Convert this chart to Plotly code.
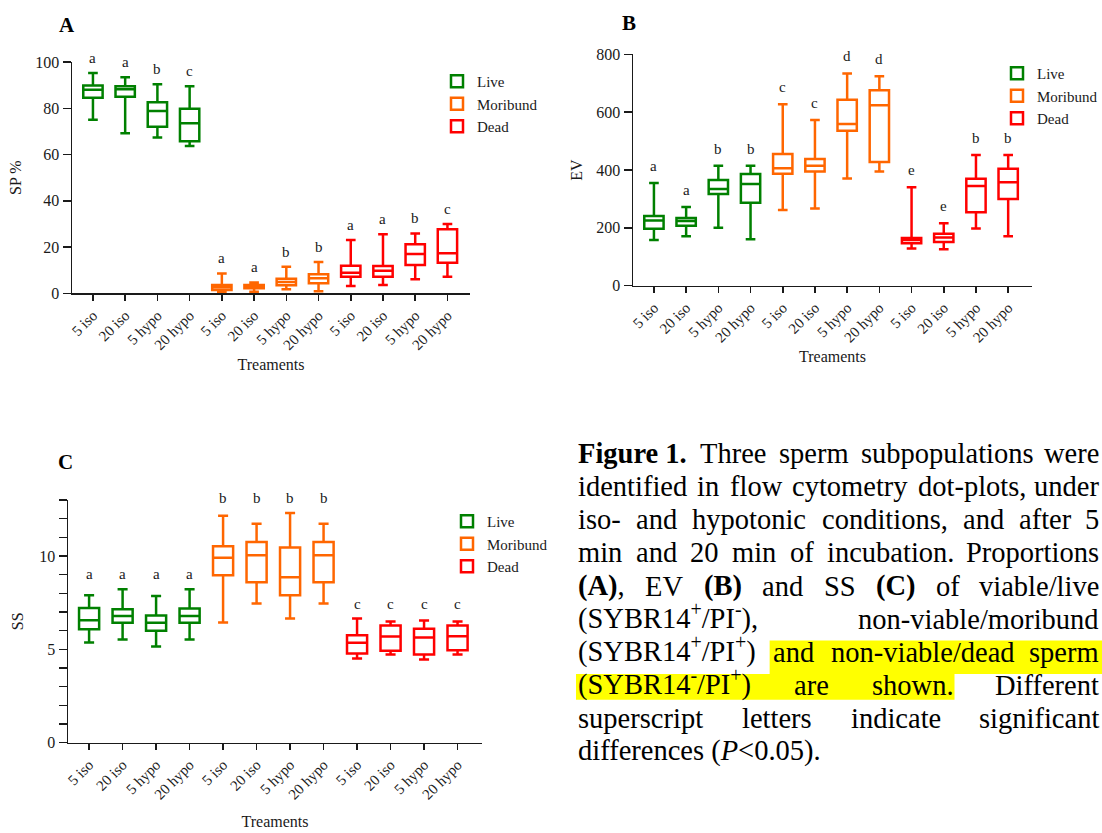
import plotly.graph_objects as go

W, H = 1102, 833
FONT = "Liberation Serif"
INK = "#1a1a1a"

# ---------------- data ----------------
treatments = ["5 iso", "20 iso", "5 hypo", "20 hypo"] * 3
groups = ["Live", "Moribund", "Dead"]
group_colors = ["#008000", "#FF6600", "#FF0000"]

# Panel A: SP %
sp_lower = [75, 69.2, 67.4, 63.7, 0.3, 0.7, 1.7, 0.9, 3.2, 3.6, 6.1, 7.2]
sp_q1 = [84.5, 85, 72, 65.7, 1.4, 2.2, 3.5, 4.3, 7.2, 7.2, 12.2, 13.2]
sp_median = [88, 88.2, 78.8, 73.5, 2.6, 2.9, 4.9, 6.5, 8.9, 9.8, 17, 17.3]
sp_q3 = [89.8, 89.5, 82.6, 79.8, 3.6, 3.6, 6.3, 8.2, 11.9, 11.8, 21.2, 27.7]
sp_upper = [95.2, 93.4, 90.4, 89.5, 8.6, 4.7, 11.5, 13.5, 23, 25.5, 25.9, 30]
sp_letters = ["a", "a", "b", "c", "a", "a", "b", "b", "a", "a", "b", "c"]

# Panel B: EV
ev_lower = [158, 171, 200, 161, 262, 267, 371, 395, 129, 126, 198, 171]
ev_q1 = [197, 207, 317, 287, 387, 395, 536, 428, 147, 151, 254, 300]
ev_median = [225, 224, 334, 352, 406, 415, 559, 624, 158, 167, 345, 358]
ev_q3 = [241, 234, 365, 386, 455, 438, 643, 676, 165, 180, 370, 404]
ev_upper = [355, 272, 415, 415, 627, 573, 734, 724, 340, 216, 452, 452]
ev_letters = ["a", "a", "b", "b", "c", "c", "d", "d", "e", "e", "b", "b"]

# Panel C: SS
ss_lower = [5.37, 5.53, 5.15, 5.53, 6.44, 7.45, 6.65, 7.45, 4.51, 4.73, 4.46, 4.73]
ss_q1 = [6.08, 6.42, 5.99, 6.42, 8.97, 8.59, 7.9, 8.6, 4.78, 4.92, 4.73, 4.95]
ss_median = [6.56, 6.79, 6.42, 6.79, 9.91, 10.04, 8.86, 10.04, 5.35, 5.69, 5.64, 5.7]
ss_q3 = [7.22, 7.15, 6.81, 7.19, 10.52, 10.75, 10.45, 10.75, 5.76, 6.28, 6.1, 6.28]
ss_upper = [7.9, 8.22, 7.86, 8.22, 12.16, 11.73, 12.3, 11.73, 6.65, 6.49, 6.55, 6.49]
ss_letters = ["a", "a", "a", "a", "b", "b", "b", "b", "c", "c", "c", "c"]

caption_lines = [
    ["<b>Figure 1.</b>", "Three", "sperm", "subpopulations", "were"],
    ["identified", "in", "flow", "cytometry", "dot-plots,", "under"],
    ["iso-", "and", "hypotonic", "conditions,", "and", "after", "5"],
    ["min", "and", "20", "min", "of", "incubation.", "Proportions"],
    ["<b>(A)</b>,", "EV", "<b>(B)</b>", "and", "SS", "<b>(C)</b>", "of", "viable/live"],
    ["(SYBR14<sup>+</sup>/PI<sup>-</sup>),", "non-viable/moribund"],
    ["(SYBR14<sup>+</sup>/PI<sup>+</sup>)", "and", "non-viable/dead", "sperm"],
    ["(SYBR14<sup>-</sup>/PI<sup>+</sup>)", "are", "shown.", "Different"],
    ["superscript", "letters", "indicate", "significant"],
    ["differences (<i>P</i>&lt;0.05)."],
]

# ---------------- helpers ----------------
def px_x(p):
    return p / W

def px_y(p):
    return 1 - p / H

fig = go.Figure()

panels = [
    dict(xa="x", ya="y", legend="legend",
         data=(sp_lower, sp_q1, sp_median, sp_q3, sp_upper), letters=sp_letters,
         shift=15, group_max=False),
    dict(xa="x2", ya="y2", legend="legend2",
         data=(ev_lower, ev_q1, ev_median, ev_q3, ev_upper), letters=ev_letters,
         shift=17, group_max=False),
    dict(xa="x3", ya="y3", legend="legend3",
         data=(ss_lower, ss_q1, ss_median, ss_q3, ss_upper), letters=ss_letters,
         shift=15, group_max=True),
]

annotations = []
for p in panels:
    lo, q1, med, q3, up = p["data"]
    for gi, (g, col) in enumerate(zip(groups, group_colors)):
        idx = list(range(gi * 4, gi * 4 + 4))
        fig.add_trace(go.Box(
            x=idx,
            lowerfence=[lo[i] for i in idx],
            q1=[q1[i] for i in idx],
            median=[med[i] for i in idx],
            q3=[q3[i] for i in idx],
            upperfence=[up[i] for i in idx],
            name=g, boxpoints=False, width=0.6, whiskerwidth=0.5,
            line=dict(color=col, width=2.5), fillcolor="rgba(255,255,255,0)",
            xaxis=p["xa"], yaxis=p["ya"], legend=p["legend"], hoverinfo="skip",
        ))
        gmax = max(up[i] for i in idx)
        for i in idx:
            yv = gmax if p["group_max"] else up[i]
            annotations.append(dict(
                x=i, y=yv, xref=p["xa"], yref=p["ya"], text=p["letters"][i],
                showarrow=False, yanchor="middle", yshift=p["shift"],
                font=dict(family=FONT, size=15, color=INK)))

# panel letters
for letter, (cx, cy) in zip(["A", "B", "C"], [(67, 25), (629, 23), (65.5, 461.5)]):
    annotations.append(dict(x=px_x(cx), y=px_y(cy), xref="paper", yref="paper",
                            text="<b>%s</b>" % letter, showarrow=False,
                            xanchor="center", yanchor="middle",
                            font=dict(family=FONT, size=21, color="black")))

# ---------------- caption (justified, word by word) ----------------
REG = {' ': 250, '(': 333, ')': 333, '+': 564, ',': 250, '-': 333, '.': 250, '/': 278,
       ':': 278, '<': 564, '%': 833,
       'A': 722, 'B': 667, 'C': 667, 'D': 722, 'E': 611, 'F': 556, 'G': 722, 'H': 722,
       'I': 333, 'J': 389, 'K': 722, 'L': 611, 'M': 889, 'N': 722, 'O': 722, 'P': 556,
       'Q': 722, 'R': 667, 'S': 556, 'T': 611, 'U': 722, 'V': 722, 'W': 944, 'X': 722,
       'Y': 722, 'Z': 611,
       'a': 444, 'b': 500, 'c': 444, 'd': 500, 'e': 444, 'f': 333, 'g': 500, 'h': 500,
       'i': 278, 'j': 278, 'k': 500, 'l': 278, 'm': 778, 'n': 500, 'o': 500, 'p': 500,
       'q': 500, 'r': 333, 's': 389, 't': 278, 'u': 500, 'v': 500, 'w': 722, 'x': 500,
       'y': 500, 'z': 444}
for d in "0123456789":
    REG[d] = 500
BOLD = dict(REG)
BOLD.update({'C': 722, 'F': 611, 'u': 556, 'r': 444, 'B': 667, 'A': 722})
ITAL = dict(REG)
ITAL.update({'P': 611})


def text_width(s, size):
    i, w = 0, 0.0
    bold = ital = sup = False
    while i < len(s):
        if s.startswith("<b>", i):
            bold = True; i += 3; continue
        if s.startswith("</b>", i):
            bold = False; i += 4; continue
        if s.startswith("<i>", i):
            ital = True; i += 3; continue
        if s.startswith("</i>", i):
            ital = False; i += 4; continue
        if s.startswith("<sup>", i):
            sup = True; i += 5; continue
        if s.startswith("</sup>", i):
            sup = False; i += 6; continue
        ch = s[i]
        if s.startswith("&lt;", i):
            ch = "<"; i += 4
        else:
            i += 1
        table = BOLD if bold else (ITAL if ital else REG)
        cw = table.get(ch, 500)
        w += cw * (0.7 if sup else 1.0)
    return w * size / 1000.0


CAP_SIZE = 28.5
X0, X1 = 577, 1100
BASE0, LEAD = 463, 33.1
word_pos = {}
for li, words in enumerate(caption_lines):
    base = BASE0 + LEAD * li
    ybot = px_y(base + 0.216 * CAP_SIZE + 1)
    widths = [text_width(wd, CAP_SIZE) for wd in words]
    last = li == len(caption_lines) - 1
    if last or len(words) == 1:
        xs = [X0]
        anchors = ["left"]
    else:
        gap = (X1 - X0 - sum(widths)) / (len(words) - 1)
        xs, cur = [], X0
        for wdt in widths:
            xs.append(cur)
            cur += wdt + gap
        anchors = ["left"] * len(words)
        xs[-1] = X1
        anchors[-1] = "right"
    for wi, (wd, xx, an) in enumerate(zip(words, xs, anchors)):
        left = xx if an == "left" else xx - widths[wi]
        word_pos[(li, wi)] = (left, left + widths[wi])
        annotations.append(dict(x=px_x(xx), y=ybot, xref="paper", yref="paper",
                                text=wd, showarrow=False, xanchor=an, yanchor="bottom",
                                borderpad=0,
                                font=dict(family=FONT, size=CAP_SIZE, color="black")))

# yellow highlight behind "and non-viable/dead sperm (SYBR14-/PI+) are shown."
b7 = BASE0 + LEAD * 6
b8 = BASE0 + LEAD * 7
shapes = [
    dict(type="rect", xref="paper", yref="paper", layer="below",
         x0=px_x(word_pos[(6, 1)][0] - 2), x1=px_x(W), y0=px_y(b7 - 21), y1=px_y(b7 + 12.5),
         fillcolor="#FFFF00", line=dict(width=0)),
    dict(type="rect", xref="paper", yref="paper", layer="below",
         x0=px_x(X0 - 1), x1=px_x(word_pos[(7, 2)][1] + 2), y0=px_y(b7 + 12.5), y1=px_y(b8 + 5),
         fillcolor="#FFFF00", line=dict(width=0)),
]

# ---------------- axes ----------------
def xaxis(dom, rng, anchor, standoff=6):
    return dict(domain=[px_x(dom[0]), px_x(dom[1])], range=rng, anchor=anchor,
                tickmode="array", tickvals=list(range(12)), ticktext=treatments,
                tickangle=-45, ticks="outside", ticklen=6, tickwidth=1.5, tickcolor=INK,
                showline=True, linecolor=INK, linewidth=1.5, showgrid=False, zeroline=False,
                tickfont=dict(family=FONT, size=15, color=INK),
                title=dict(text="Treaments", standoff=standoff,
                           font=dict(family=FONT, size=16, color=INK)))


def yaxis(dom, rng, anchor, title, standoff, **kw):
    d = dict(domain=[px_y(dom[1]), px_y(dom[0])], range=rng, anchor=anchor,
             ticks="outside", ticklen=8, tickwidth=1.5, tickcolor=INK,
             showline=True, linecolor=INK, linewidth=1.5, showgrid=False, zeroline=False,
             tickfont=dict(family=FONT, size=16, color=INK),
             title=dict(text=title, standoff=standoff, font=dict(family=FONT, size=16, color=INK)))
    d.update(kw)
    return d


c_ticks = list(range(14))
c_text = [str(v) if v % 5 == 0 else "" for v in c_ticks]

legend_common = dict(xanchor="left", yanchor="top", bgcolor="rgba(0,0,0,0)",
                     font=dict(family=FONT, size=15, color=INK), tracegroupgap=0,
                     itemclick=False, itemdoubleclick=False)

fig.update_layout(
    width=W, height=H, autosize=False,
    margin=dict(l=0, r=0, t=0, b=0, pad=0, autoexpand=False),
    paper_bgcolor="white", plot_bgcolor="white",
    font=dict(family=FONT, color=INK),
    boxmode="overlay",
    xaxis=xaxis((72, 470), [-0.65, 11.7], "y"),
    yaxis=yaxis((62, 293.3), [0, 100], "x", "SP %", 9, dtick=20, tick0=0),
    xaxis2=xaxis((633, 1032), [-0.65, 11.74], "y2"),
    yaxis2=yaxis((54.3, 285.7), [0, 800], "x2", "EV", 9, dtick=200, tick0=0),
    xaxis3=xaxis((68, 482), [-0.63, 11.73], "y3", standoff=14),
    yaxis3=yaxis((500, 742.7), [0, 13], "x3", "SS", 11, tickmode="array",
                 tickvals=c_ticks, ticktext=c_text),
    legend=dict(x=px_x(437), y=px_y(65), **legend_common),
    legend2=dict(x=px_x(997), y=px_y(57), **legend_common),
    legend3=dict(x=px_x(447), y=px_y(505), **legend_common),
    annotations=annotations,
    shapes=shapes,
)

fig.write_html(
    "out.html",
    config={"displayModeBar": False, "staticPlot": True},
    post_script="document.body.style.margin='0px';document.body.style.overflow='hidden';",
)
